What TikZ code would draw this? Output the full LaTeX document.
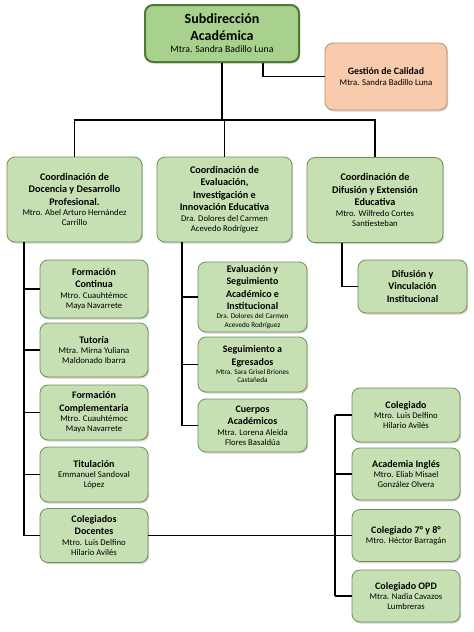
\documentclass[tikz,border=0pt]{standalone}
\usepackage{fontspec}
\setmainfont{Carlito}
\usetikzlibrary{shadows}
\definecolor{boxfill}{HTML}{C6E0B4}
\definecolor{boxdraw}{HTML}{6F8F5F}
\definecolor{topfill}{HTML}{A9D18E}
\definecolor{topdraw}{HTML}{4E7A34}
\definecolor{orfill}{HTML}{F8CBAD}
\definecolor{ordraw}{HTML}{B98E72}
\newcommand{\tbf}{\fontsize{10}{12.5}\selectfont\bfseries}
\newcommand{\cbf}{\fontsize{10.2}{12.5}\selectfont\bfseries}
\newcommand{\nm}{\fontsize{8.7}{10}\selectfont\mdseries}
\newcommand{\snm}{\fontsize{7.2}{8}\selectfont\mdseries}
\tikzset{
  orgbox/.style={draw=boxdraw, line width=0.8pt, fill=boxfill, rounded corners=8pt, align=center,
    inner sep=2pt, font=\nm, drop shadow={opacity=0.35, shadow xshift=1.2pt, shadow yshift=-1.5pt}},
  topbox/.style={orgbox, draw=topdraw, fill=topfill, line width=2pt, font=\fontsize{9.8}{11}\selectfont},
  orbox/.style={orgbox, draw=ordraw, fill=orfill, font=\fontsize{8.8}{10}\selectfont},
  conn/.style={draw=black, line width=1.4pt}
}
\begin{document}
\begin{tikzpicture}[x=1pt,y=-1pt]
\fill[white] (0,0) rectangle (474,632);
\useasboundingbox (0,0) rectangle (474,632);
% top
\node[topbox, minimum width=154, minimum height=57] (sub) at (222,33.5)
  {\fontsize{14}{16}\selectfont\bfseries Subdirección\\[5.5pt]\fontsize{14}{16}\selectfont\bfseries Académica\\[1.5pt]Mtra. Sandra Badillo Luna};
\node[orbox, minimum width=122, minimum height=67] (gc) at (386,76.5)
  {\fontsize{9.8}{11}\selectfont\bfseries Gestión de Calidad\\[1pt]Mtra. Sandra Badillo Luna};
% coordinations
\node[orgbox, minimum width=135, minimum height=85] (c1) at (74.5,199.5)
  {\cbf Coordinación de\\[2.5pt]\cbf Docencia y Desarrollo\\[2.5pt]\cbf Profesional.\\[0.5pt]Mtro. Abel Arturo Hernández\\Carrillo};
\node[orgbox, minimum width=135, minimum height=85] (c2) at (224.5,199.5)
  {\cbf Coordinación de\\[2.5pt]\cbf Evaluación,\\[2.5pt]\cbf Investigación e\\[2.5pt]\cbf Innovación Educativa\\[0.5pt]Dra. Dolores del Carmen\\Acevedo Rodríguez};
\node[orgbox, minimum width=136, minimum height=85] (c3) at (375,200)
  {\cbf Coordinación de\\[2.5pt]\cbf Difusión y Extensión\\[2.5pt]\cbf Educativa\\[0.5pt]Mtro. Wilfredo Cortes\\Santiesteban};
% left column
\node[orgbox, minimum width=108, minimum height=58] (fc) at (94,289)
  {\tbf Formación\\[2.5pt]\tbf Continua\\[0.5pt]Mtro. Cuauhtémoc\\Maya Navarrete};
\node[orgbox, minimum width=108, minimum height=54] (tut) at (94,350)
  {\tbf Tutoría\\[0.5pt]Mtra. Mirna Yuliana\\Maldonado Ibarra};
\node[orgbox, minimum width=108, minimum height=55] (fcm) at (94,412.5)
  {\tbf Formación\\[2.5pt]\tbf Complementaria\\[0.5pt]Mtro. Cuauhtémoc\\Maya Navarrete};
\node[orgbox, minimum width=108, minimum height=55] (tit) at (94,474.5)
  {\tbf Titulación\\[0.5pt]Emmanuel Sandoval\\López};
\node[orgbox, minimum width=108, minimum height=54] (cd) at (94,535.5)
  {\tbf Colegiados\\[2.5pt]\tbf Docentes\\[0.5pt]Mtro. Luis Delfino\\Hilario Avilés};
% middle column
\node[orgbox, minimum width=109, minimum height=70] (ev) at (252.5,297)
  {\tbf Evaluación y\\[2.5pt]\tbf Seguimiento\\[2.5pt]\tbf Académico e\\[2.5pt]\tbf Institucional\\[-1pt]\snm Dra. Dolores del Carmen\\[-1.5pt]\snm Acevedo Rodríguez};
\node[orgbox, minimum width=109, minimum height=55] (seg) at (252.5,364.5)
  {\tbf Seguimiento a\\[2.5pt]\tbf Egresados\\[-1pt]\snm Mtra. Sara Grisel Briones\\[-1.5pt]\snm Castañeda};
\node[orgbox, minimum width=109, minimum height=53] (cue) at (252.5,425.5)
  {\tbf Cuerpos\\[2.5pt]\tbf Académicos\\[0.5pt]Mtra. Lorena Aleida\\Flores Basaldúa};
% right
\node[orgbox, minimum width=109, minimum height=53] (dif) at (412.5,286.5)
  {\tbf Difusión y\\[2.5pt]\tbf Vinculación\\[2.5pt]\tbf Institucional};
\node[orgbox, minimum width=108, minimum height=54] (col) at (406,415)
  {\tbf Colegiado\\[0.5pt]Mtro. Luis Delfino\\Hilario Avilés};
\node[orgbox, minimum width=108, minimum height=52] (aca) at (406,474)
  {\tbf Academia Inglés\\[0.5pt]Mtro. Eliab Misael\\González Olvera};
\node[orgbox, minimum width=108, minimum height=52] (c78) at (406,535.5)
  {\tbf Colegiado 7° y 8°\\[0.5pt]Mtro. Héctor Barragán};
\node[orgbox, minimum width=108, minimum height=52] (opd) at (406,596)
  {\tbf Colegiado OPD\\[0.5pt]Mtra. Nadia Cavazos\\Lumbreras};
% connectors
\coordinate (bar) at (0,120);
\coordinate (L) at (24,0);
\coordinate (M) at (182,0);
\coordinate (R) at (342,0);
\coordinate (RR) at (335,0);
\draw[conn] (sub.south) -- (sub.south |- bar);
\draw[conn] (c1.north) -- (c1.north |- bar) -| (c3.north);
\draw[conn] (c2.north) -- (c2.north |- bar);
\draw[conn] ([xshift=41pt]sub.south) |- (gc.west);
% left
\draw[conn] (c1.south -| L) -- (cd.west -| L) -- (cd.west);
\foreach \n in {fc,tut,fcm,tit} \draw[conn] (\n.west -| L) -- (\n.west);
% middle
\draw[conn] (c2.south -| M) -- (cue.west -| M) -- (cue.west);
\foreach \n in {ev,seg} \draw[conn] (\n.west -| M) -- (\n.west);
% right
\draw[conn] (c3.south -| R) |- (dif.west);
\draw[conn] (cd.east) -- (c78.west);
\draw[conn] (col.west -| RR) -- (opd.west -| RR);
\foreach \n in {col,aca,opd} \draw[conn] (\n.west -| RR) -- (\n.west);
\end{tikzpicture}
\end{document}
